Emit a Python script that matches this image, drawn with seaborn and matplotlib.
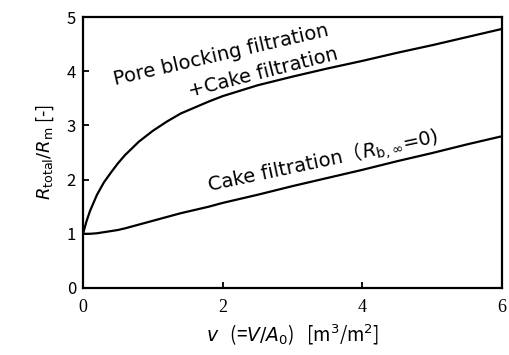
import matplotlib
matplotlib.use("Agg")
import matplotlib.pyplot as plt
import seaborn as sns
import pandas as pd
import numpy as np

v = [0, 0.05, 0.1, 0.2, 0.3, 0.4, 0.5, 0.6, 0.8, 1.0, 1.2, 1.4, 1.6, 1.8, 2.0,
     2.5, 3.0, 3.5, 4.0, 4.5, 5.0, 5.5, 6.0]
r_pore_cake = [1.00, 1.23, 1.42, 1.72, 1.95, 2.13, 2.30, 2.45, 2.70, 2.90, 3.07,
               3.22, 3.33, 3.44, 3.54, 3.74, 3.90, 4.05, 4.19, 4.34, 4.48,
               4.63, 4.78]
r_cake = [1.00, 1.00, 1.00, 1.01, 1.03, 1.05, 1.07, 1.10, 1.17, 1.24, 1.31,
          1.38, 1.44, 1.50, 1.57, 1.72, 1.88, 2.03, 2.18, 2.34, 2.49,
          2.65, 2.80]
x_ticks = [0, 2, 4, 6]
y_ticks = [0, 1, 2, 3, 4, 5]

sns.set_theme(style="ticks")
plt.rcParams['font.family'] = ['Noto Sans CJK JP', 'DejaVu Sans']
plt.rcParams['mathtext.fontset'] = 'dejavusans'
plt.rcParams['text.color'] = 'black'
plt.rcParams['axes.labelcolor'] = 'black'
plt.rcParams['xtick.color'] = 'black'
plt.rcParams['ytick.color'] = 'black'

df = pd.DataFrame({
    "v": v * 2,
    "R": r_pore_cake + r_cake,
    "model": ["pore"] * len(v) + ["cake"] * len(v),
})

fig = plt.figure(figsize=(5.1, 3.55), dpi=100)
ax = fig.add_axes([83/510, 67/355, (502-83)/510, (288-17)/355])
sns.lineplot(data=df, x="v", y="R", units="model", estimator=None,
             color="black", linewidth=1.6, ax=ax, legend=False)

ax.set_xlim(0, 6)
ax.set_ylim(0, 5)
ax.set_xticks(x_ticks)
ax.set_yticks(y_ticks)
ax.set_xticklabels([str(t) for t in x_ticks], family='Liberation Serif', fontsize=13)
ax.set_yticklabels([str(t) for t in y_ticks], fontsize=12)
ax.tick_params(direction='in', length=4.5, width=1.3, color='black',
               labelcolor='black', pad=5)
ax.tick_params(axis='x', pad=8)
for s in ax.spines.values():
    s.set_linewidth(1.6)
    s.set_color('black')

ax.set_ylabel(r"$R_{\mathrm{total}}/R_{\mathrm{m}}$ [-]", fontsize=13, labelpad=8,
              color='black')
ax.set_xlabel(r"$v$   (=$V/A_0$)   [m$^3$/m$^2$]", fontsize=13.5, labelpad=5,
              color='black')

fam = ['DejaVu Sans', 'Noto Sans CJK JP']
fs = 14
ax.text(0.458, 3.745, "Pore blocking filtration", fontsize=fs, family=fam,
        color='black', rotation=13, ha='left', va='baseline',
        rotation_mode='anchor')
ax.text(1.532, 3.52, "+Cake filtration", fontsize=fs, family=fam,
        color='black', rotation=14.3, ha='left', va='baseline',
        rotation_mode='anchor')

v0, r0, ang = 1.819, 1.79, 12
part1 = "Cake filtration（"
ax.text(v0, r0, part1, fontsize=fs, family=fam, rotation=ang, color='black',
        ha='left', va='baseline', rotation_mode='anchor')
fig.canvas.draw()
renderer = fig.canvas.get_renderer()
tmp = ax.text(0, 0, part1, fontsize=fs, family=fam)
w = tmp.get_window_extent(renderer).width
tmp.remove()
ax.annotate(r"$R_{\mathrm{b},\infty}$=0)", xy=(v0, r0),
            xytext=(w * np.cos(np.radians(ang)), w * np.sin(np.radians(ang))),
            textcoords='offset pixels', fontsize=fs, family=fam, rotation=ang,
            color='black', ha='left', va='baseline', rotation_mode='anchor')

fig.savefig("out.png", dpi=100)
